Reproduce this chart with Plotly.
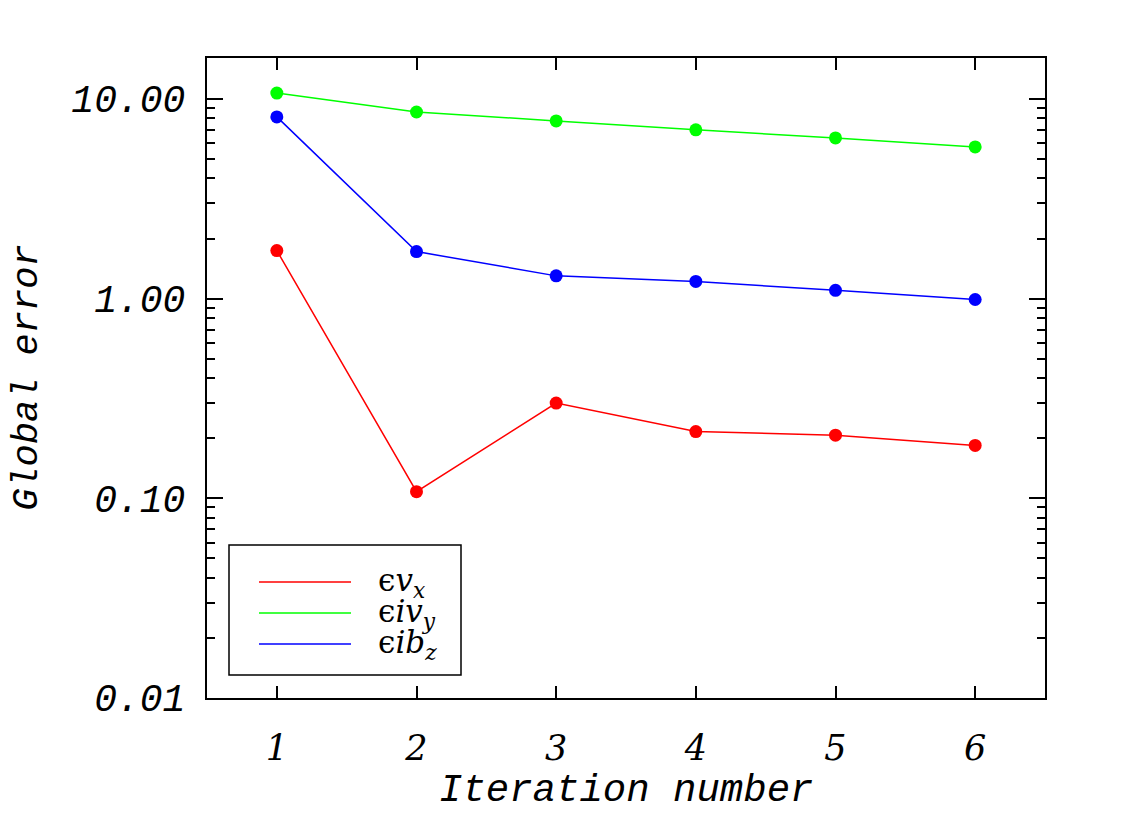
import plotly.graph_objects as go

iterations = [1, 2, 3, 4, 5, 6]
err_vx = [1.74, 0.108, 0.30, 0.216, 0.207, 0.184]
err_ivy = [10.7, 8.6, 7.76, 7.0, 6.38, 5.75]
err_ibz = [8.13, 1.72, 1.30, 1.22, 1.10, 0.99]

series_names = ["ϵ<i>v</i><sub><i>x</i></sub>",
                "ϵ<i>iv</i><sub><i>y</i></sub>",
                "ϵ<i>ib</i><sub><i>z</i></sub>"]
series_colors = ["#ff0000", "#00ff00", "#0000ff"]
series_values = [err_vx, err_ivy, err_ibz]

y_tickvals = [0.01, 0.1, 1, 10]
y_ticktext = ["0.01", "0.10", "1.00", "10.00"]
x_ticktext = ["1", "2", "3", "4", "5", "6"]

fig = go.Figure()
for name, col, vals in zip(series_names, series_colors, series_values):
    fig.add_trace(go.Scatter(
        x=iterations, y=vals, mode="lines+markers", name=name,
        line=dict(color=col, width=1.5),
        marker=dict(color=col, size=13),
        showlegend=False,
    ))

minor_vals = [m * 10 ** e for e in range(-2, 2) for m in range(2, 10)]

fig.update_layout(
    width=1146, height=815,
    margin=dict(l=207, r=101, t=58, b=117),
    paper_bgcolor="white", plot_bgcolor="white",
    xaxis=dict(
        range=[0.5, 6.5], tickmode="array", tickvals=iterations, ticktext=x_ticktext,
        ticks="inside", ticklen=12, tickwidth=2, tickcolor="black",
        showline=True, linecolor="black", linewidth=2, mirror="allticks",
        showgrid=False, zeroline=False,
        tickfont=dict(family="DejaVu Serif", size=35, color="black", style="italic"),
        ticklabelstandoff=18,
    ),
    yaxis=dict(
        type="log", range=[-2, 1.205], tickmode="array",
        tickvals=y_tickvals, ticktext=y_ticktext,
        ticks="inside", ticklen=16, tickwidth=2, tickcolor="black",
        showline=True, linecolor="black", linewidth=2, mirror="allticks",
        showgrid=False, zeroline=False,
        tickfont=dict(family="Liberation Mono", size=38, color="black", style="italic"),
        ticklabelstandoff=12,
        minor=dict(tickmode="array", tickvals=minor_vals, ticks="inside",
                   ticklen=8, tickwidth=2, tickcolor="black", showgrid=False),
    ),
)

# axis titles
fig.add_annotation(text="Iteration number", xref="paper", yref="paper",
                   x=0.5, y=-0.145, xanchor="center", yanchor="middle", showarrow=False,
                   font=dict(family="Liberation Mono", size=39, color="black", style="italic"))
fig.add_annotation(text="Global error", xref="paper", yref="paper",
                   x=-0.215, y=0.5, xanchor="center", yanchor="middle", showarrow=False,
                   textangle=-90,
                   font=dict(family="Liberation Mono", size=37, color="black", style="italic"))

# legend box (paper coords)
W, H = 838.0, 640.0
def px(xp):
    return (xp - 207) / W
def py(yp):
    return (698 - yp) / H

fig.add_shape(type="rect", xref="paper", yref="paper",
              x0=px(229), x1=px(461), y0=py(675), y1=py(545),
              line=dict(color="black", width=1.5), fillcolor="white", layer="above")
legend_rows = [582, 613, 644]
for name, col, yr in zip(series_names, series_colors, legend_rows):
    fig.add_shape(type="line", xref="paper", yref="paper",
                  x0=px(259), x1=px(351), y0=py(yr), y1=py(yr),
                  line=dict(color=col, width=1.5), layer="above")
    fig.add_annotation(text=name, xref="paper", yref="paper",
                       x=px(376), y=py(yr), xanchor="left", yanchor="middle",
                       showarrow=False,
                       font=dict(family="DejaVu Serif", size=31, color="black"))

fig.write_html("out.html")
